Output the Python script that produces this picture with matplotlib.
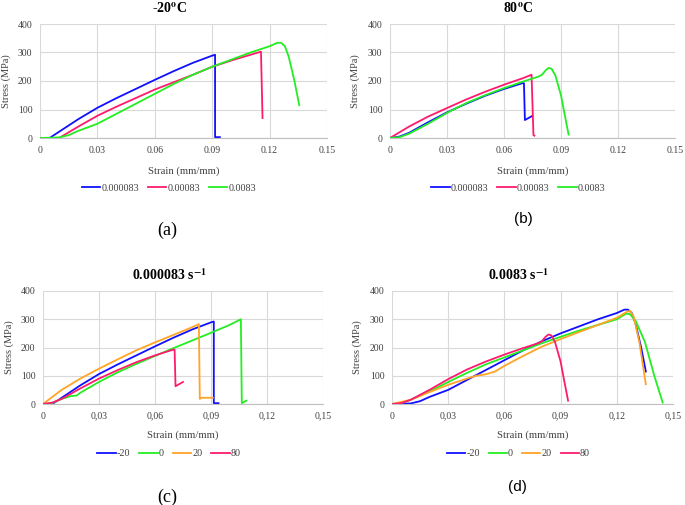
import matplotlib
matplotlib.use('Agg')
import matplotlib.pyplot as plt
import matplotlib.ticker as mticker

plt.rcParams['font.family'] = ['Liberation Serif', 'DejaVu Serif']
plt.rcParams['mathtext.fontset'] = 'stix'

BLUE = '#1010ff'
PINK = '#ff1a6e'
GREEN = '#22ee22'
ORANGE = '#ffa426'

# -20 C, 0.000083 1/s (also -20 in panel c)
cold_slow_x = [0, 0.005, 0.01, 0.02, 0.03, 0.04, 0.05, 0.06, 0.07, 0.08, 0.09, 0.0915, 0.0915, 0.094]
cold_slow_y = [0, 0, 22, 66, 106, 140, 172, 204, 235, 264, 289, 292, 3, 3]
# -20 C, 0.00083 1/s
cold_mid_x = [0, 0.01, 0.02, 0.03, 0.04, 0.05, 0.06, 0.07, 0.08, 0.09, 0.10, 0.11, 0.1155, 0.1163]
cold_mid_y = [0, 0, 40, 78, 110, 140, 170, 196, 222, 250, 272, 292, 303, 70]
# -20 C, 0.0083 1/s (also -20 in panel d)
cold_fast_x = [0, 0.01, 0.015, 0.02, 0.03, 0.04, 0.05, 0.06, 0.07, 0.08, 0.09, 0.10, 0.11, 0.12,
               0.124, 0.126, 0.128, 0.13, 0.133, 0.1355]
cold_fast_y = [0, 2, 10, 25, 50, 85, 120, 155, 190, 222, 250, 275, 300, 322, 334, 334, 322, 285,
               200, 115]

# 80 C, 0.000083 1/s (also 80 in panel c)
hot_slow_x = [0, 0.005, 0.01, 0.02, 0.03, 0.04, 0.05, 0.06, 0.07, 0.0705, 0.071, 0.075]
hot_slow_y = [0, 5, 18, 55, 90, 120, 148, 172, 193, 192, 63, 78]
# 80 C, 0.00083 1/s
hot_mid_x = [0, 0.005, 0.01, 0.02, 0.03, 0.04, 0.05, 0.06, 0.07, 0.0745, 0.0755, 0.076]
hot_mid_y = [0, 20, 40, 75, 105, 135, 162, 187, 210, 222, 10, 8]
# 80 C, 0.0083 1/s (also 80 in panel d)
hot_fast_x = [0, 0.005, 0.01, 0.02, 0.03, 0.04, 0.05, 0.06, 0.07, 0.078, 0.08, 0.082, 0.0835,
              0.085, 0.087, 0.09, 0.092, 0.094]
hot_fast_y = [0, 3, 15, 50, 88, 122, 150, 175, 198, 215, 222, 238, 246, 243, 220, 150, 80, 12]

# 0 C and 20 C, 0.000083 1/s
zero_slow_x = [0, 0.005, 0.01, 0.015, 0.018, 0.02, 0.03, 0.04, 0.05, 0.06, 0.07, 0.08, 0.09,
               0.10, 0.106, 0.1065, 0.109]
zero_slow_y = [0, 3, 18, 28, 30, 40, 78, 112, 142, 170, 198, 225, 252, 280, 300, 3, 12]
room_slow_x = [0, 0.005, 0.01, 0.02, 0.03, 0.04, 0.05, 0.06, 0.07, 0.08, 0.0835, 0.084, 0.085, 0.091]
room_slow_y = [0, 25, 50, 90, 125, 158, 190, 218, 245, 272, 283, 18, 22, 22]

# 0 C and 20 C, 0.0083 1/s
zero_fast_x = [0, 0.005, 0.01, 0.02, 0.03, 0.04, 0.05, 0.06, 0.07, 0.08, 0.09, 0.10, 0.11,
               0.12, 0.125, 0.127, 0.13, 0.135, 0.14, 0.1445]
zero_fast_y = [0, 3, 15, 45, 78, 110, 140, 165, 190, 215, 238, 260, 280, 300, 320, 318, 295,
               220, 100, 5]
room_fast_x = [0, 0.01, 0.02, 0.03, 0.04, 0.045, 0.05, 0.055, 0.06, 0.07, 0.08, 0.09, 0.10,
               0.11, 0.12, 0.125, 0.127, 0.129, 0.132, 0.1355]
room_fast_y = [0, 15, 42, 68, 90, 100, 105, 115, 135, 170, 203, 230, 255, 280, 305, 325, 330,
               310, 220, 70]

rate_labels = ['0.000083', '0.00083', '0.0083']
temp_labels = ['-20', '0', '20', '80']

W, H = 685, 505
fig = plt.figure(figsize=(W / 100, H / 100), dpi=100)


def box(x0, x1, ytop, ybot):
    return [x0 / W, 1 - ybot / H, (x1 - x0) / W, (ybot - ytop) / H]


def setup(ax, title, comma, ylab_x, xlab_y):
    ax.set_xlim(0, 0.15)
    ax.set_ylim(0, 400)
    ax.set_xticks([0, 0.03, 0.06, 0.09, 0.12, 0.15])
    ax.set_yticks([0, 100, 200, 300, 400])
    if comma:
        fmt = lambda v, p: '0' if v == 0 else ('%.2f' % v).replace('.', ',')
    else:
        fmt = lambda v, p: '0' if v == 0 else '%.2f' % v
    ax.xaxis.set_major_formatter(mticker.FuncFormatter(fmt))
    ax.grid(True, color='#d9d9d9', linewidth=0.8)
    ax.set_axisbelow(True)
    for s in ['top', 'right', 'left']:
        ax.spines[s].set_visible(False)
    ax.spines['bottom'].set_color('#bfbfbf')
    ax.tick_params(length=0, labelsize=7, colors='#404040', pad=5.5)
    ax.set_xlabel('Strain (mm/mm)', fontsize=7.7, color='#404040')
    ax.xaxis.set_label_coords(0.5, xlab_y)
    ax.set_ylabel('Stress (MPa)', fontsize=7.5, color='#404040')
    ax.yaxis.set_label_coords(ylab_x, 0.5)
    ax.text(0.45, 1.14, title, transform=ax.transAxes, ha='center', va='center',
            fontsize=10, fontweight='bold')


def legend(ax):
    ax.legend(loc='center', bbox_to_anchor=(0.45, -0.44), ncol=4, frameon=False,
              fontsize=7.3, handlelength=1.8, handletextpad=0.1, columnspacing=0.9,
              labelcolor='#404040')


lw = 1.3

ax = fig.add_axes(box(40, 327, 24, 138))
ax.plot(cold_slow_x, cold_slow_y, color=BLUE, lw=lw, label=rate_labels[0])
ax.plot(cold_mid_x, cold_mid_y, color=PINK, lw=lw, label=rate_labels[1])
ax.plot(cold_fast_x, cold_fast_y, color=GREEN, lw=lw, label=rate_labels[2])
setup(ax, '-20$^{\\mathbf{o}}$C', False, -0.1, -0.25)
legend(ax)

ax = fig.add_axes(box(390, 675, 24, 138))
ax.plot(hot_slow_x, hot_slow_y, color=BLUE, lw=lw, label=rate_labels[0])
ax.plot(hot_mid_x, hot_mid_y, color=PINK, lw=lw, label=rate_labels[1])
ax.plot(hot_fast_x, hot_fast_y, color=GREEN, lw=lw, label=rate_labels[2])
setup(ax, '80$^{\\mathbf{o}}$C', False, -0.105, -0.25)
legend(ax)

ax = fig.add_axes(box(43, 323, 291, 404))
ax.plot(cold_slow_x, cold_slow_y, color=BLUE, lw=lw, label=temp_labels[0])
ax.plot(zero_slow_x, zero_slow_y, color=GREEN, lw=lw, label=temp_labels[1])
ax.plot(room_slow_x, room_slow_y, color=ORANGE, lw=lw, label=temp_labels[2])
ax.plot(hot_slow_x, hot_slow_y, color=PINK, lw=lw, label=temp_labels[3])
setup(ax, '0.000083 s$^{\\mathbf{-1}}$', True, -0.105, -0.23)
legend(ax)

ax = fig.add_axes(box(392, 673, 291, 404))
ax.plot(cold_fast_x, cold_fast_y, color=BLUE, lw=lw, label=temp_labels[0])
ax.plot(zero_fast_x, zero_fast_y, color=GREEN, lw=lw, label=temp_labels[1])
ax.plot(room_fast_x, room_fast_y, color=ORANGE, lw=lw, label=temp_labels[2])
ax.plot(hot_fast_x, hot_fast_y, color=PINK, lw=lw, label=temp_labels[3])
setup(ax, '0.0083 s$^{\\mathbf{-1}}$', True, -0.105, -0.23)
legend(ax)

fig.text(167 / W, 1 - 230 / H, '(a)', ha='center', va='center', fontsize=13)
fig.text(523 / W, 1 - 219 / H, '(b)', ha='center', va='center', fontsize=11,
         family='Liberation Sans')
fig.text(167 / W, 1 - 497 / H, '(c)', ha='center', va='center', fontsize=13)
fig.text(517 / W, 1 - 487 / H, '(d)', ha='center', va='center', fontsize=11,
         family='Liberation Sans')

fig.savefig('out.png', dpi=100)
